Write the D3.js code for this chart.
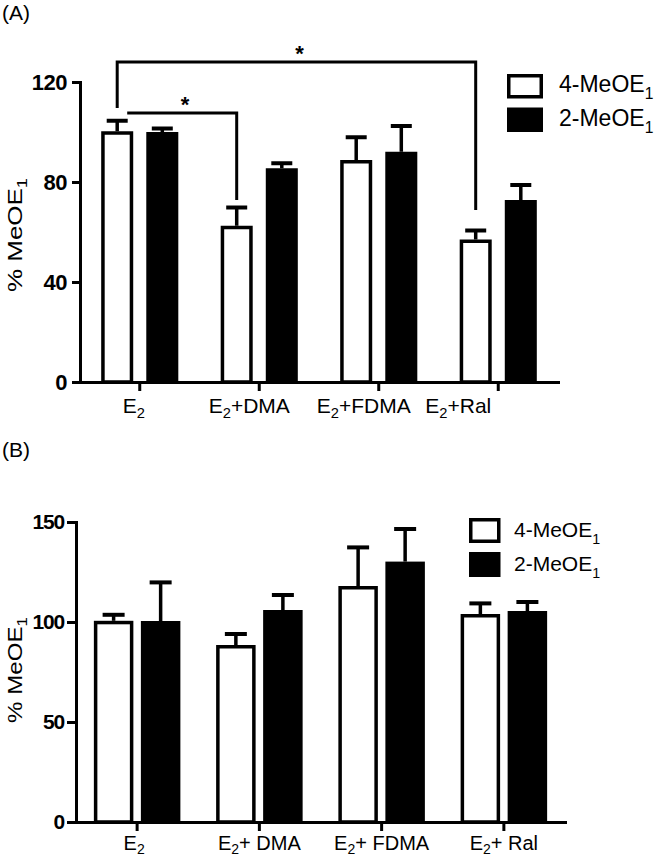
<!DOCTYPE html>
<html><head><meta charset="utf-8">
<script src="https://cdn.jsdelivr.net/npm/d3@7"></script>
<style>body{margin:0;background:#fff} svg{display:block;font-family:"Liberation Sans",Arial,sans-serif}</style>
</head><body><svg id="c" width="656" height="858"></svg>
<script>
// ---------- data ----------
const seriesNames = ["4-MeOE", "2-MeOE"];
const categoriesA = ["E2", "E2+DMA", "E2+FDMA", "E2+Ral"];
const meanA_4 = [100.3, 62.5, 88.8, 57.0];
const errA_4  = [4.2, 7.3, 9.1, 3.6];
const meanA_2 = [100.0, 85.5, 92.1, 72.8];
const errA_2  = [1.4, 2.0, 10.3, 6.0];
const ticksA  = [0, 40, 80, 120];
const sigA = [
  {from: 0, to: 3, level: 128, endFrom: 109.6, endTo: 68.8, label: "*"},
  {from: 0, to: 1, level: 107.6, endFrom: null, endTo: 72.8, label: "*"}
];
const categoriesB = ["E2", "E2+ DMA", "E2+ FDMA", "E2+ Ral"];
const meanB_4 = [100.6, 88.5, 118.0, 104.0];
const errB_4  = [3.0, 5.5, 19.3, 5.3];
const meanB_2 = [100.5, 106.0, 130.2, 105.5];
const errB_2  = [19.3, 7.5, 16.3, 4.5];
const ticksB  = [0, 50, 100, 150];

// ---------- helpers ----------
const svg = d3.select("#c");
const FONT = '"Liberation Sans",Arial,sans-serif';

function subLabel(sel, str, subSize, shift) {
  const m = str.match(/^([A-Za-z]+)(\d)(.*)$/);
  sel.append("tspan").text(m[1]);
  sel.append("tspan").attr("font-size", subSize).attr("dy", shift).text(m[2]);
  if (m[3]) sel.append("tspan").attr("dy", -shift).text(m[3]);
}

function panel(cfg) {
  const g = svg.append("g");
  const x = d3.scaleBand().domain(cfg.categories).range([cfg.x0, cfg.x1]);
  const y = d3.scaleLinear().domain([0, cfg.ymax]).range([cfg.y0, cfg.y1]);
  const xs = d3.scaleBand().domain(seriesNames).range([0, x.bandwidth()])
    .paddingInner(cfg.pIn).paddingOuter(cfg.pOut);

  const rows = cfg.categories.map((c, i) => ({
    cat: c,
    vals: [
      {s: seriesNames[0], m: cfg.mean4[i], e: cfg.err4[i], fill: "#fff"},
      {s: seriesNames[1], m: cfg.mean2[i], e: cfg.err2[i], fill: "#000"}
    ]
  }));
  const sw = cfg.sw;
  const grp = g.selectAll("g.cat").data(rows).join("g")
    .attr("transform", d => `translate(${x(d.cat)},0)`);
  grp.selectAll("line.err").data(d => d.vals).join("line")
    .attr("x1", d => xs(d.s) + xs.bandwidth() / 2).attr("x2", d => xs(d.s) + xs.bandwidth() / 2)
    .attr("y1", d => y(d.m)).attr("y2", d => y(d.m + d.e))
    .attr("stroke", "#000").attr("stroke-width", sw);
  grp.selectAll("line.cap").data(d => d.vals).join("line")
    .attr("x1", d => xs(d.s) + xs.bandwidth() / 2 - cfg.cap / 2)
    .attr("x2", d => xs(d.s) + xs.bandwidth() / 2 + cfg.cap / 2)
    .attr("y1", d => y(d.m + d.e)).attr("y2", d => y(d.m + d.e))
    .attr("stroke", "#000").attr("stroke-width", sw + 0.5);
  grp.selectAll("rect").data(d => d.vals).join("rect")
    .attr("x", d => xs(d.s) + sw / 2).attr("width", xs.bandwidth() - sw)
    .attr("y", d => y(d.m) + sw / 2).attr("height", d => y(0) - y(d.m) - sw / 2)
    .attr("fill", d => d.fill).attr("stroke", "#000").attr("stroke-width", sw);

  const ya = g.append("g").attr("transform", `translate(${cfg.x0},0)`)
    .call(d3.axisLeft(y).tickValues(cfg.ticks).tickSize(cfg.ytick).tickSizeOuter(0).tickPadding(cfg.ypad));
  ya.select(".domain").attr("stroke-width", 3).attr("stroke-linecap", "square");
  ya.selectAll(".tick line").attr("stroke-width", 3);
  ya.selectAll(".tick text").attr("font-family", FONT).attr("font-weight", "bold")
    .attr("font-size", cfg.tickFont).attr("letter-spacing", cfg.tickLS).attr("fill", "#000");

  const xa = g.append("g").attr("transform", `translate(0,${cfg.y0})`)
    .call(d3.axisBottom(x).tickSize(cfg.xtick).tickSizeOuter(0).tickFormat(""));
  xa.select(".domain").attr("stroke-width", 3).attr("stroke-linecap", "square");
  xa.selectAll(".tick line").attr("stroke-width", 3);

  cfg.categories.forEach((c, i) => {
    const t = g.append("text")
      .attr("x", x(c) + x.bandwidth() / 2 + cfg.labelShift[i])
      .attr("y", cfg.labelY).attr("text-anchor", "middle")
      .attr("font-size", cfg.labelFont).attr("fill", "#000");
    subLabel(t, c, cfg.labelFont * 0.7, cfg.subShift);
  });

  const yl = g.append("text")
    .attr("transform", `translate(${cfg.ylabX},${cfg.ylabY}) rotate(-90)`)
    .attr("text-anchor", "middle").attr("font-size", 20)
    .attr("textLength", cfg.ylabLen).attr("lengthAdjust", "spacingAndGlyphs");
  yl.append("tspan").text("% MeOE");
  yl.append("tspan").attr("font-size", 14).attr("dy", 5).text("1");

  g.append("text").attr("x", 2).attr("y", cfg.letterY).attr("font-size", 21).text(cfg.letter);

  seriesNames.forEach((s, i) => {
    const ly = cfg.legY + i * cfg.legStep;
    g.append("rect").attr("x", cfg.legX + sw / 2).attr("y", ly + sw / 2)
      .attr("width", cfg.legW - sw).attr("height", cfg.legH - sw)
      .attr("fill", i === 0 ? "#fff" : "#000").attr("stroke", "#000").attr("stroke-width", sw);
    const t = g.append("text").attr("x", cfg.legTX).attr("y", ly + cfg.legBase)
      .attr("font-size", cfg.legFont);
    t.append("tspan").text(s);
    t.append("tspan").attr("font-size", cfg.legFont * 0.68).attr("dy", 7).text("1");
  });

  return {x, y, xs};
}

// ---------- panel A ----------
const A = panel({
  categories: categoriesA, mean4: meanA_4, err4: errA_4, mean2: meanA_2, err2: errA_2,
  ticks: ticksA, ymax: 120, x0: 80, x1: 558, y0: 382, y1: 82,
  pIn: 0.29, pOut: 0.47, sw: 3.5, cap: 21, ytick: 8, ypad: 5, xtick: 9,
  tickFont: 22, tickLS: -0.5, labelFont: 21, labelY: 413, subShift: 5, labelShift: [-6, -10, -15, -40],
  ylabX: 22, ylabY: 235, ylabLen: 114, letter: "(A)", letterY: 20,
  legX: 507, legY: 74, legStep: 33.5, legW: 36, legH: 24.5, legTX: 559, legBase: 18, legFont: 23
});

const sg = svg.append("g");
sigA.forEach(b => {
  const cx = i => A.x(categoriesA[i]) + A.xs(seriesNames[0]) + A.xs.bandwidth() / 2;
  const xL = b.endFrom == null ? cx(b.from) + 10 : cx(b.from);
  const xR = cx(b.to);
  const yl = A.y(b.level);
  let d = "";
  if (b.endFrom != null) d += `M${xL},${A.y(b.endFrom)}V${yl}`; else d += `M${xL},${yl}`;
  d += `H${xR}V${A.y(b.endTo)}`;
  sg.append("path").attr("d", d).attr("fill", "none").attr("stroke", "#000").attr("stroke-width", 3);
  sg.append("text").attr("x", (xL + xR) / 2 + 3).attr("y", yl - 1.5)
    .attr("text-anchor", "middle").attr("font-size", 22).attr("font-weight", "bold").text(b.label);
});

// ---------- panel B ----------
panel({
  categories: categoriesB, mean4: meanB_4, err4: errB_4, mean2: meanB_2, err2: errB_2,
  ticks: ticksB, ymax: 150, x0: 76, x1: 565, y0: 822, y1: 522,
  pIn: 0.16, pOut: 0.38, sw: 3.5, cap: 22, ytick: 9, ypad: 3, xtick: 9,
  tickFont: 21, tickLS: -1.2, labelFont: 20, labelY: 850, subShift: 4, labelShift: [-3, 0, 0, 0],
  ylabX: 22, ylabY: 670, ylabLen: 106, letter: "(B)", letterY: 457,
  legX: 469, legY: 518, legStep: 34, legW: 31.5, legH: 25, legTX: 514, legBase: 18.5, legFont: 21
});
</script></body></html>
